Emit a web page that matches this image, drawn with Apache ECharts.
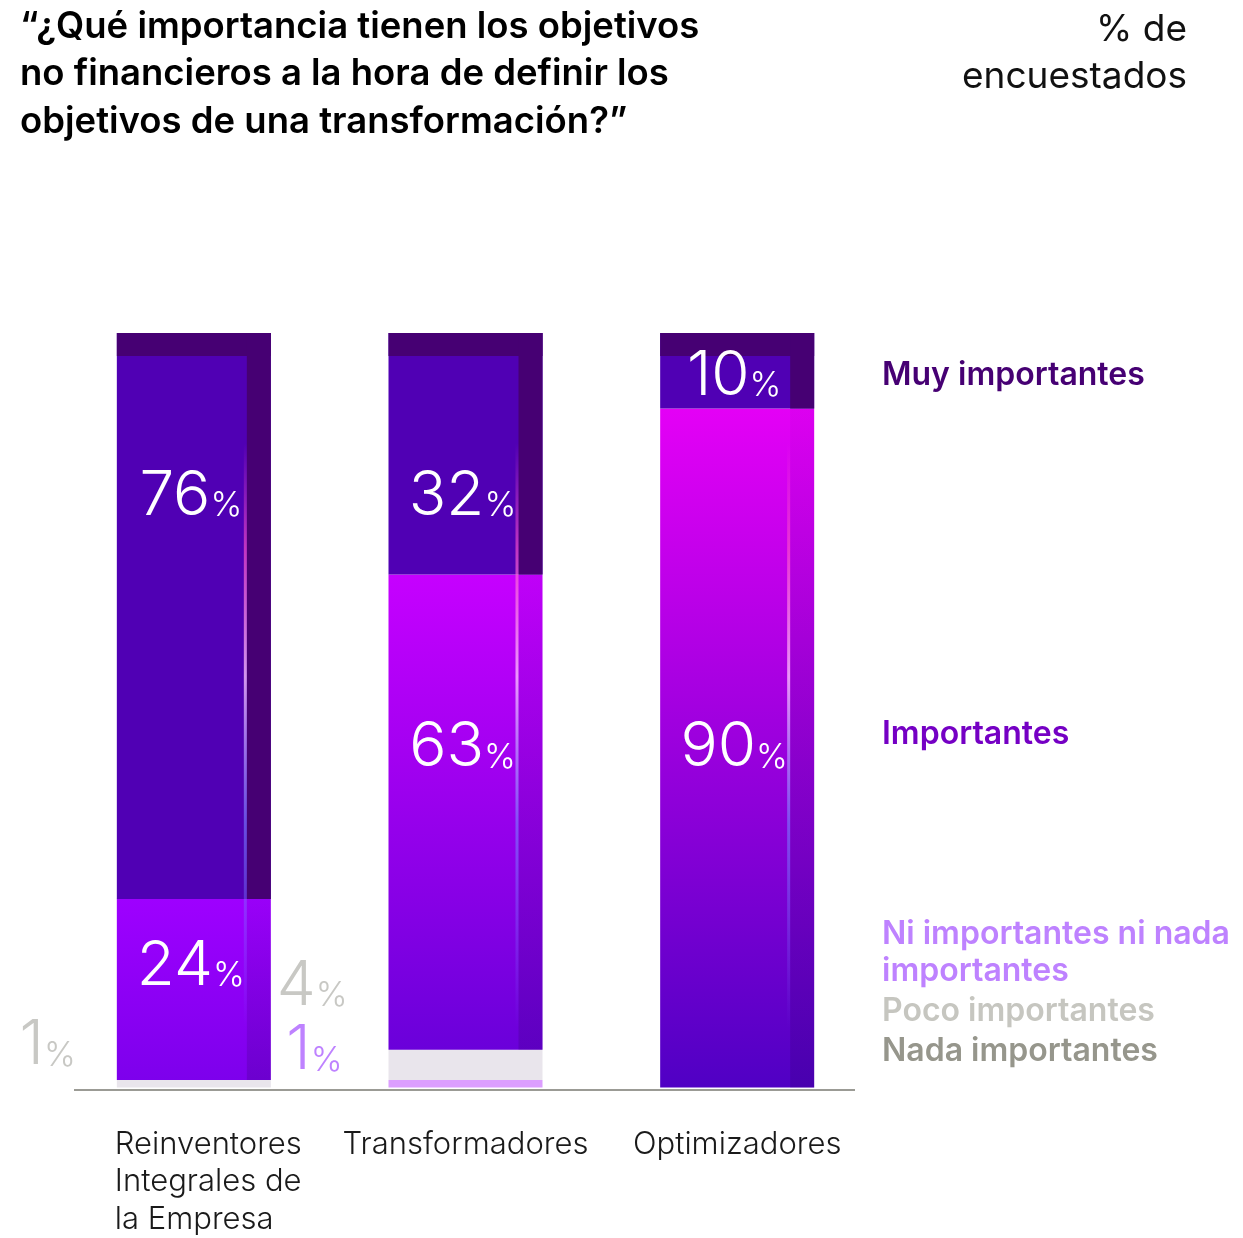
<!DOCTYPE html>
<html>
<head>
<meta charset="utf-8">
<script src="https://cdn.jsdelivr.net/npm/echarts@6/dist/echarts.min.js"></script>
<style>
  html, body { margin: 0; padding: 0; background: #ffffff; }
  #chart { width: 1243px; height: 1238px; }
</style>
</head>
<body>
<div id="chart"></div>
<script>
// Survey shares per group (% of respondents)
const categories = ['Reinventores\nIntegrales de\nla Empresa', 'Transformadores', 'Optimizadores'];
const seriesNames = ['Muy importantes', 'Importantes', 'Ni importantes ni nada importantes', 'Poco importantes', 'Nada importantes'];
const muy = [76, 32, 10];
const importantes = [24, 63, 90];
const ni = [0, 1, 0];
const poco = [1, 4, 0];
const nada = [0, 0, 0];

// Styling
const FONT = 'Inter, "Noto Sans", sans-serif';
const COL = {
  muyDark: '#460073',
  muy: '#5000b4',
  ni: '#dc9eff',
  poco: '#e9e5ec',
  nada: '#96968c'
};
const impGradients = [
  ['#9e00ff', '#7d00ec'],
  ['#c600ff', '#6a00da'],
  ['#e400f6', '#5000c4']
];
const BAR_W = 154, CAP_H = 23, STRIP_W = 24;
// label placement (px below segment top / offsets from segment centre)
const muyLabelDy = [163, 163, 43];
const impLabelDy = [67, 173, 339];
const pocoLabelDy = [-38, -79, 0];
const niLabelDy = [0, -33, 0];

const chart = echarts.init(document.getElementById('chart'), null, { renderer: 'canvas' });

function numRich(color) {
  return {
    n: { fontFamily: FONT, fontWeight: 300, fontSize: 62, fill: color, lineHeight: 62, verticalAlign: 'bottom' },
    p: { fontFamily: FONT, fontWeight: 300, fontSize: 34, fill: color, lineHeight: 62, verticalAlign: 'bottom', padding: [0, 0, 4, 0] }
  };
}
function pctText(v) { return '{n|' + v + '}{p|%}'; }

function barSeries(name, data, color) {
  return {
    name: name,
    type: 'bar',
    stack: 'total',
    barWidth: BAR_W,
    z: 2,
    itemStyle: { color: color },
    data: data
  };
}

const impData = importantes.map((v, i) => ({
  value: v,
  itemStyle: {
    color: new echarts.graphic.LinearGradient(0, 0, 0, 1, [
      { offset: 0, color: impGradients[i][0] },
      { offset: 1, color: impGradients[i][1] }
    ])
  }
}));

const overlayData = categories.map((c, i) => [i, nada[i], ni[i], poco[i], importantes[i], muy[i]]);

function renderOverlay(params, api) {
  const ci = api.value(0);
  const vNada = api.value(1), vNi = api.value(2), vPoco = api.value(3), vImp = api.value(4), vMuy = api.value(5);
  const base = api.coord([ci, 0]);
  const cx = base[0], y0 = base[1];
  const gridTop = api.coord([ci, 100])[1];
  const yAt = v => Math.max(api.coord([ci, v])[1], gridTop);
  const left = cx - BAR_W / 2;
  const cumImpBot = vNada + vNi + vPoco;
  const cumMuyBot = cumImpBot + vImp;
  const total = cumMuyBot + vMuy;
  const yTop = yAt(total), yMuyBot = yAt(cumMuyBot), yImpBot = yAt(cumImpBot);
  const stripX = left + BAR_W - STRIP_W;
  const children = [];
  // top cap and right-hand shade
  children.push({ type: 'rect', shape: { x: left, y: yTop, width: BAR_W, height: CAP_H }, style: { fill: COL.muyDark } });
  children.push({ type: 'rect', shape: { x: stripX, y: yTop, width: STRIP_W, height: yMuyBot - yTop }, style: { fill: COL.muyDark } });
  children.push({
    type: 'rect', shape: { x: stripX, y: yMuyBot, width: STRIP_W, height: yImpBot - yMuyBot },
    style: {
      fill: new echarts.graphic.LinearGradient(0, 0, 0, 1, [
        { offset: 0, color: 'rgba(40,0,90,0.04)' },
        { offset: 1, color: 'rgba(40,0,90,0.2)' }
      ])
    }
  });
  // light streak along the shade edge
  const sTop = yTop + 110, sBot = y0 - 60;
  children.push({
    type: 'rect',
    shape: { x: stripX - 3, y: sTop, width: 3, height: sBot - sTop },
    style: {
      fill: new echarts.graphic.LinearGradient(0, 0, 0, 1, [
        { offset: 0, color: 'rgba(255,80,200,0)' },
        { offset: 0.18, color: 'rgba(255,80,200,0.65)' },
        { offset: 0.4, color: 'rgba(255,200,255,0.75)' },
        { offset: 0.65, color: 'rgba(120,130,255,0.6)' },
        { offset: 1, color: 'rgba(120,130,255,0)' }
      ])
    }
  });
  // value labels
  const lx = cx - 3;
  if (vMuy > 0) {
    children.push({ type: 'text', x: lx, y: yTop + muyLabelDy[ci],
      style: { text: pctText(vMuy), rich: numRich('#ffffff'), align: 'center', verticalAlign: 'middle' } });
  }
  if (vImp > 0) {
    children.push({ type: 'text', x: lx, y: yMuyBot + impLabelDy[ci],
      style: { text: pctText(vImp), rich: numRich('#ffffff'), align: 'center', verticalAlign: 'middle' } });
  }
  if (vPoco > 0) {
    const yc = (yAt(vNada + vNi) + yImpBot) / 2;
    children.push({ type: 'text', x: left - 41, y: yc + pocoLabelDy[ci],
      style: { text: pctText(vPoco), rich: numRich('#c8c8c4'), align: 'right', verticalAlign: 'middle' } });
  }
  if (vNi > 0) {
    const yc = (yAt(vNada) + yAt(vNada + vNi)) / 2;
    children.push({ type: 'text', x: left - 46, y: yc + niLabelDy[ci],
      style: { text: pctText(vNi), rich: numRich('#be82ff'), align: 'right', verticalAlign: 'middle' } });
  }
  return { type: 'group', children: children };
}

const legendColors = [COL.muyDark, '#7500c4', '#be82ff', '#c6c6c0', '#96968c'];
const legendText = ['Muy importantes', 'Importantes', 'Ni importantes ni nada\nimportantes', 'Poco importantes', 'Nada importantes'];
const legendTop = [357, 716, 916, 993, 1033];

const option = {
  animation: false,
  backgroundColor: '#ffffff',
  grid: { left: 58, right: 370, top: 333, bottom: 149, containLabel: false },
  xAxis: {
    type: 'category',
    data: categories,
    axisLine: { show: false },
    axisTick: { show: false },
    axisLabel: {
      interval: 0,
      margin: 38,
      fontFamily: FONT,
      fontWeight: 300,
      fontSize: 31,
      lineHeight: 37.5,
      color: '#1a1a1a',
      formatter: function (value, idx) {
        if (idx === 0) {
          return value.split('\n').map(l => '{l|' + l + '}').join('\n');
        }
        return value;
      },
      rich: {
        l: { align: 'left', width: 158, fontFamily: FONT, fontWeight: 300, fontSize: 31, lineHeight: 37.5, color: '#1a1a1a' }
      }
    }
  },
  yAxis: {
    type: 'value',
    min: 0,
    max: 100,
    show: false
  },
  series: [
    barSeries(seriesNames[4], nada, COL.nada),
    barSeries(seriesNames[2], ni, COL.ni),
    barSeries(seriesNames[3], poco, COL.poco),
    barSeries(seriesNames[1], impData, null),
    barSeries(seriesNames[0], muy, COL.muy),
    {
      type: 'custom',
      z: 3,
      clip: false,
      silent: true,
      renderItem: renderOverlay,
      encode: { x: 0, y: 5 },
      data: overlayData
    }
  ],
  graphic: [
    {
      type: 'line', silent: true,
      shape: { x1: 74, y1: 1090, x2: 855, y2: 1090 },
      style: { stroke: '#9b9b95', lineWidth: 2 },
      z: 1
    },
    {
      type: 'text', x: 20, y: 3,
      style: {
        text: '“¿Qué importancia tienen los objetivos\nno financieros a la hora de definir los\nobjetivos de una transformación?”',
        fontFamily: FONT, fontWeight: 600, fontSize: 36.5, lineHeight: 47.5, fill: '#000000'
      }
    },
    {
      type: 'text', x: 1187, y: 6,
      style: {
        text: '% de\nencuestados', align: 'right', verticalAlign: 'top',
        fontFamily: FONT, fontWeight: 400, fontSize: 37, lineHeight: 47, fill: '#111111'
      }
    }
  ].concat(legendText.map((t, i) => ({
    type: 'text', x: 882, y: legendTop[i],
    style: {
      text: t, fontFamily: FONT, fontWeight: 600, fontSize: 32, lineHeight: 37, fill: legendColors[i]
    }
  })))
};

chart.setOption(option);
</script>
</body>
</html>
